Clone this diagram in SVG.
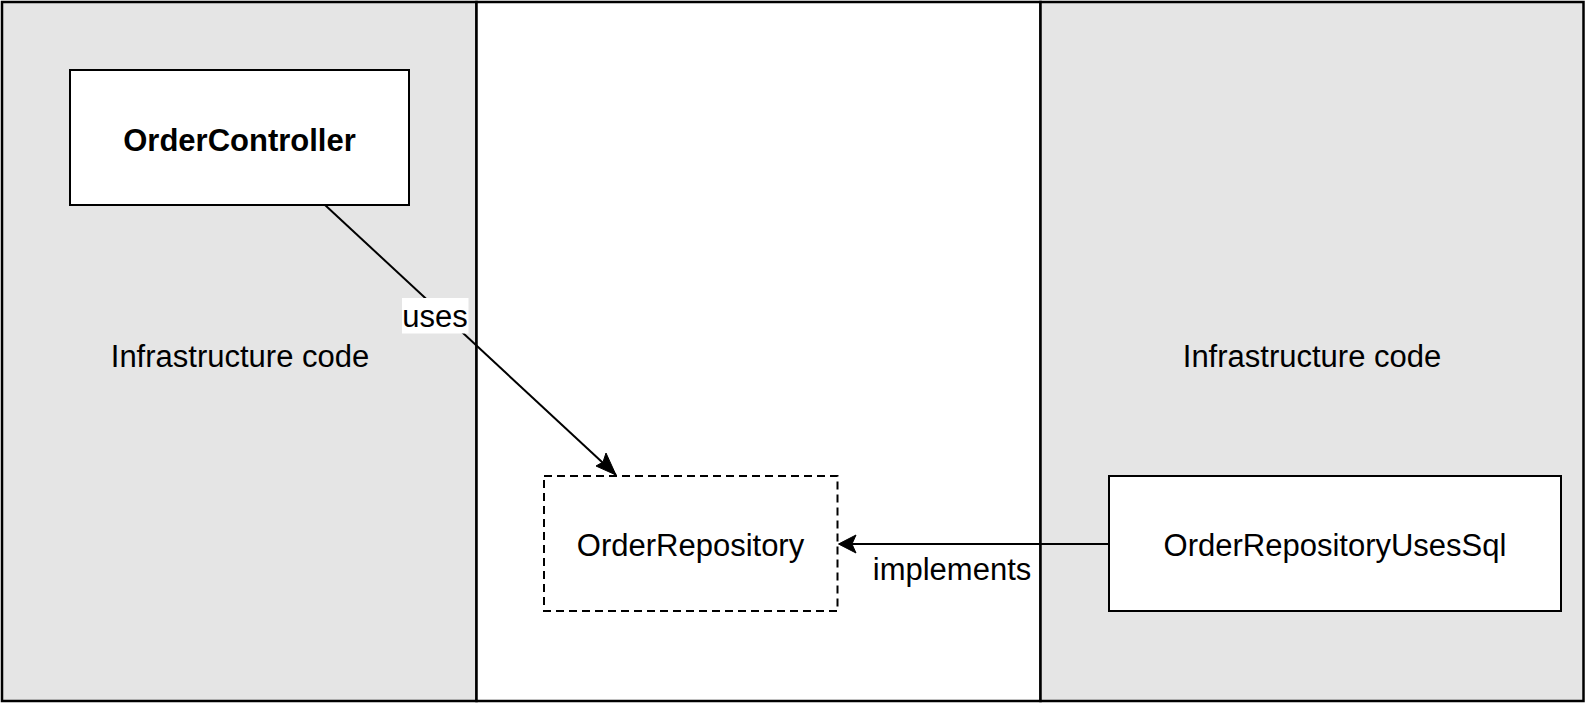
<svg xmlns="http://www.w3.org/2000/svg" width="1586" height="704" viewBox="0 0 1586 704">
<style>
.panel{stroke:#000;stroke-width:2.5}
.grey{fill:#e5e5e5}
.white{fill:#fff}
.box{fill:#fff;stroke:#000;stroke-width:2}
.dash{fill:#fff;stroke:#000;stroke-width:2;stroke-dasharray:8 5}
.t{font-family:"Liberation Sans",Arial,sans-serif;font-size:31px;fill:#000;text-anchor:middle}
.b{font-weight:bold}
.edge{stroke:#000;stroke-width:2;fill:none}
</style>
<g id="panel-left">
<rect class="panel grey" x="2" y="2" width="474.5" height="699"/>
<text class="t" x="240" y="367">Infrastructure code</text>
</g>
<g id="panel-middle">
<rect class="panel white" x="476.5" y="2" width="564" height="699"/>
</g>
<g id="panel-right">
<rect class="panel grey" x="1040.5" y="2" width="543" height="699"/>
<text class="t" x="1312" y="367">Infrastructure code</text>
</g>
<g id="node-ordercontroller">
<rect class="box" x="70" y="70" width="339" height="135"/>
<text class="t b" x="239.5" y="151">OrderController</text>
</g>
<g id="node-orderrepository">
<rect class="dash" x="544" y="476" width="293.5" height="135"/>
<text class="t" x="690.5" y="556">OrderRepository</text>
</g>
<g id="node-orderrepositoryusessql">
<rect class="box" x="1109" y="476" width="452" height="135"/>
<text class="t" x="1335" y="556">OrderRepositoryUsesSql</text>
</g>
<g id="connectors">
<path class="edge" d="M325,205 L616,475"/>
<path d="M616,475 L596,466 L603,462 L606,453 Z" fill="#000" stroke="#000" stroke-width="1"/>
<rect x="402" y="298" width="66.5" height="35.5" fill="#fff"/>
<text class="t" x="435" y="326.5">uses</text>
<path class="edge" d="M1109,544 L840,544"/>
<path d="M838.5,544 L856,535 L852,544 L856,553 Z" fill="#000" stroke="#000" stroke-width="1"/>
<text class="t" x="952" y="580">implements</text>
</g>
</svg>
